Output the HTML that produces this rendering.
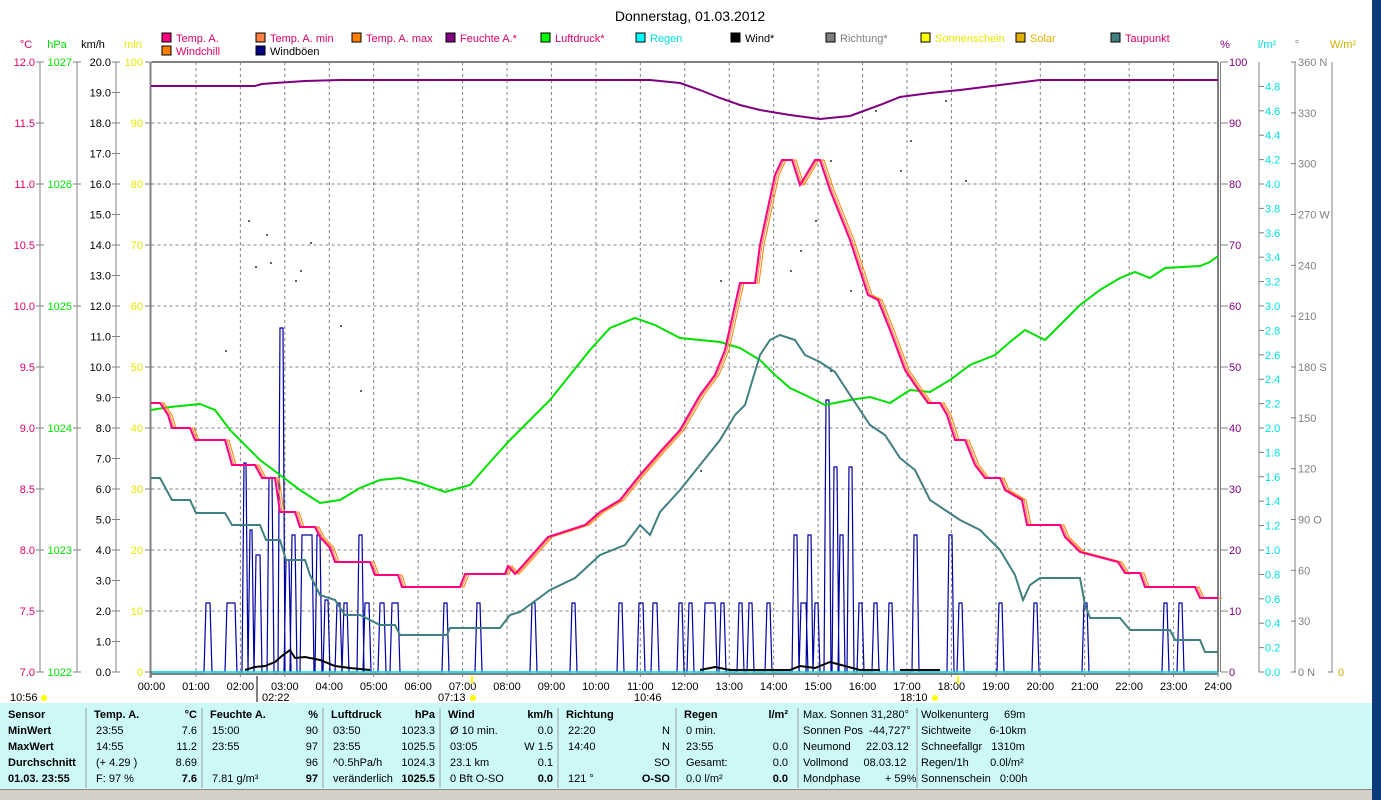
<!DOCTYPE html>
<html><head><meta charset="utf-8"><style>
body{margin:0;width:1381px;height:800px;overflow:hidden;background:#fff;font-family:"Liberation Sans",sans-serif;}
svg{position:absolute;left:0;top:0}
text{font-family:"Liberation Sans",sans-serif;font-size:11px}
</style></head><body>
<svg id="s" width="1381" height="800" xmlns="http://www.w3.org/2000/svg"></svg>
<script>
const s=document.getElementById('s');let h='';
const X0=151.5,X1=1218,Y0=62,Y1=672;
const tx=(x,y,t,c,a,extra)=>h+=`<text x="${x}" y="${y}" fill="${c||'#000'}" text-anchor="${a||'start'}" ${extra||''}>${t}</text>`;
const ln=(a,b,c,d,col,w,da)=>h+=`<line x1="${a}" y1="${b}" x2="${c}" y2="${d}" stroke="${col}" stroke-width="${w||1}" ${da?'stroke-dasharray="'+da+'"':''}/>`;
const pl=(pts,col,w)=>h+=`<polyline fill="none" stroke="${col}" stroke-width="${w}" points="${pts.map(p=>p.join(',')).join(' ')}"/>`;
h+=`<rect x="0" y="703" width="1381" height="87" fill="#ccf8f8"/><rect x="0" y="790" width="1381" height="10" fill="#d4d0c8"/><rect x="1372" y="0" width="9" height="800" fill="#0a3a7a"/>`;
ln(0,789.5,1372,789.5,'#888');
tx(690,21,'Donnerstag, 01.03.2012','#000','middle','style="font-size:14px"');
const lg=[[162,'#ff0080','Temp. A.','#e0006a'],[256,'#ff8040','Temp. A. min','#e0006a'],[352,'#ff8000','Temp. A. max','#e0006a'],[446,'#800080','Feuchte A.*','#e0006a'],[541,'#00ff00','Luftdruck*','#e0006a'],[636,'#00ffff','Regen','#00e0e0'],[731,'#000','Wind*','#000'],[826,'#808080','Richtung*','#808080'],[921,'#ffff00','Sonnenschein','#e8e800'],[1016,'#e0b000','Solar','#e0b000'],[1111,'#408080','Taupunkt','#e0006a']];
lg.forEach(l=>{h+=`<rect x="${l[0]}" y="33" width="9" height="9" fill="${l[1]}" stroke="#000"/>`;tx(l[0]+14,42,l[2],l[3]);});
h+=`<rect x="162" y="46" width="9" height="9" fill="#ff8000" stroke="#000"/><rect x="256" y="46" width="9" height="9" fill="#000080" stroke="#000"/>`;
tx(176,55,'Windchill','#e0006a');tx(270,55,'Windböen','#000');
tx(26,48,'°C','#e0006a','middle');tx(57,48,'hPa','#00e000','middle');tx(93,48,'km/h','#000','middle');tx(133,48,'min','#e8e800','middle');
tx(1225,48,'%','#800080','middle');tx(1267,48,'l/m²','#00e0e0','middle');tx(1297,48,'°','#808080','middle');tx(1343,48,'W/m²','#d0b000','middle');
for(let i=1;i<24;i++){const x=X0+i*44.44;ln(x,Y0,x,Y1,'#808080',1,'3,3');}
for(let i=1;i<10;i++){const y=Y0+i*61;ln(X0,y,X1,y,'#808080',1,'3,3');}
ln(X0,Y0,X1,Y0,'#808080',2);ln(X0-1,Y0,X0-1,Y1+6,'#808080',2);ln(X1,Y0,X1,Y1,'#808080',2);ln(1220.5,Y0,1220.5,Y1,'#808080',1);
ln(X0,Y1+2,X1,Y1+2,'#808080',2);
[40,77,116].forEach(x=>ln(x,Y0,x,Y1,'#808080'));
for(let i=0;i<=10;i++){const y=Y0+i*61;tx(35,y+4,(12-i*0.5).toFixed(1),'#e0006a','end');ln(36,y,44,y,'#808080');tx(134+9,y+4,100-i*10,'#e8e800','end');ln(145,y,150,y,'#808080');}
for(let i=0;i<=5;i++){const y=Y0+i*122;tx(72,y+4,1027-i,'#00e000','end');ln(73,y,81,y,'#808080');}
for(let i=0;i<=20;i++){const y=Y0+i*30.5;tx(111,y+4,(20-i).toFixed(1),'#000','end');ln(112,y,120,y,'#808080');}
[1259,1295,1332].forEach(x=>ln(x,Y0,x,Y1,'#808080'));
for(let i=0;i<=10;i++){const y=Y0+i*61;ln(1221,y,1228,y,'#808080');tx(1229,y+4,100-i*10,'#800080');}
for(let i=0;i<=24;i++){const v=i*0.2,y=Y1-v*122;ln(1259,y,1264,y,'#808080');tx(1265,y+4,v.toFixed(1),'#00e0e0');}
const dl={360:'360 N',270:'270 W',180:'180 S',90:'90  O',0:'0   N'};
for(let v=0;v<=360;v+=30){const y=Y1-v*610/360;ln(1291,y,1296,y,'#808080');tx(1298,y+4,dl[v]||v,'#808080');}
ln(1328,Y1,1333,Y1,'#808080');tx(1338,676,'0','#d0b000');
for(let i=0;i<=24;i++){const x=X0+i*44.44;ln(x,Y1,x,Y1+5,'#808080');tx(x,690,(i<10?'0':'')+i+':00','#000','middle');}
tx(10,701,'10:56','#000');h+=`<circle cx="44" cy="698" r="3" fill="#ff0"/>`;
tx(262,701,'02:22','#000');tx(438,701,'07:13','#000');h+=`<circle cx="473" cy="698" r="3" fill="#ff0"/>`;
tx(634,701,'10:46','#000');tx(900,701,'18:10','#000');h+=`<circle cx="935" cy="698" r="3" fill="#ff0"/>`;
ln(257,676,257,702,'#808080',2);ln(472,676,472,684,'#ff0',2);ln(958,676,958,684,'#ff0',2);
[[225,350],[248,220],[266,234],[255,266],[270,262],[300,270],[310,242],[295,280],[340,325],[360,390],[700,470],[720,280],[790,270],[800,250],[815,220],[830,160],[850,290],[830,370],[900,170],[910,140],[945,100],[965,180],[875,110]].forEach(p=>h+=`<rect x="${p[0]}" y="${p[1]}" width="2" height="2" fill="#606060"/>`);
let g=[[151,672]];
[[207,603,4],[228,603,8],[245,463,2],[251,530,2],[257,555,4],[270,478,3],[281,328,3],[287,560,3],[293,535,3],[303,535,10],[318,535,3],[326,600,3],[338,603,3],[345,603,3],[360,535,3],[366,603,4],[381,603,4],[393,603,6],[445,603,3],[478,603,3],[533,603,3],[573,603,3],[620,603,3],[640,603,4],[654,603,4],[680,603,3],[690,603,3],[706,603,10],[722,603,3],[740,603,3],[750,603,3],[768,603,3],[795,535,3],[802,603,5],[809,535,3],[816,603,3],[827,400,3],[835,467,3],[841,535,3],[850,467,3],[860,603,3],[875,603,3],[890,603,3],[915,535,3],[950,535,3],[960,603,3],[1000,603,3],[1035,603,3],[1085,603,3],[1165,603,3],[1180,603,3]].forEach(p=>{g.push([p[0]-3,672],[p[0]-1,p[1]],[p[0]+p[2]-1,p[1]],[p[0]+p[2]+1,672]);});
g.push([1218,672]);pl(g,'#0000a0',1.2);
ln(X0,Y1,X1,Y1,'#00e0e0',1.5);
pl([[245,670],[255,667],[265,666],[275,662],[283,655],[290,650],[295,658],[305,657],[320,660],[335,666],[350,668],[370,670]],'#000',2);
pl([[700,670],[715,667],[730,670],[790,670],[800,666],[815,668],[830,662],[845,666],[860,670],[880,670]],'#000',2);
pl([[900,670],[940,670]],'#000',2);
pl([[151,86],[255,86],[262,84],[275,83],[290,82],[305,81],[340,80],[650,80],[680,83],[700,90],[720,98],[740,105],[760,110],[790,115],[820,119],[850,116],[880,105],[900,97],[930,93],[960,90],[1000,85],[1040,80],[1218,80]],'#800080',2);
pl([[151,410],[170,407],[200,404],[215,410],[230,430],[245,445],[260,460],[280,475],[300,490],[320,503],[340,500],[360,488],[380,480],[400,478],[420,483],[445,492],[470,485],[490,462],[510,440],[530,420],[550,400],[570,375],[590,350],[610,328],[635,318],[655,325],[680,338],[700,340],[720,342],[740,348],[760,360],[775,375],[790,388],[805,395],[825,405],[850,400],[870,397],[890,403],[910,390],[930,392],[950,380],[970,365],[995,355],[1010,342],[1025,330],[1045,340],[1060,325],[1080,305],[1100,290],[1120,278],[1135,272],[1150,278],[1165,268],[1200,266],[1210,262],[1218,256]],'#00e000',2);
pl([[151,478],[160,478],[172,500],[190,500],[196,513],[225,513],[232,525],[260,525],[266,540],[280,540],[286,560],[305,560],[310,575],[320,595],[335,600],[345,615],[360,615],[370,620],[380,625],[395,625],[400,635],[447,635],[450,628],[500,628],[510,615],[520,612],[550,590],[575,578],[600,555],[625,545],[640,525],[650,535],[660,512],[680,490],[700,465],[720,440],[735,415],[745,405],[760,355],[770,340],[780,335],[795,340],[805,355],[820,362],[835,372],[850,395],[870,425],[885,435],[900,458],[915,470],[930,500],[945,510],[960,520],[980,530],[1000,550],[1015,575],[1023,600],[1030,585],[1040,578],[1080,578],[1085,605],[1090,618],[1120,618],[1130,630],[1170,630],[1175,640],[1200,640],[1205,652],[1218,652]],'#408080',2);
const T=[[151,403],[160,403],[168,415],[172,428],[190,428],[195,440],[225,440],[232,465],[255,465],[262,478],[275,478],[280,512],[295,512],[300,527],[315,527],[320,537],[330,548],[335,562],[370,562],[375,575],[398,575],[402,587],[460,587],[465,574],[505,574],[508,566],[515,574],[525,563],[548,537],[585,525],[600,512],[620,500],[640,475],[660,452],[680,430],[700,395],[715,375],[725,350],[735,305],[740,283],[755,283],[760,245],[775,175],[782,160],[792,160],[800,185],[815,160],[820,160],[830,190],[850,240],[868,295],[878,300],[890,330],[905,370],[915,385],[928,403],[940,403],[947,415],[955,440],[965,440],[975,465],[985,478],[1000,478],[1005,490],[1022,500],[1027,525],[1060,525],[1065,537],[1080,552],[1118,562],[1125,573],[1140,573],[1145,587],[1195,587],[1200,598],[1218,598]];
pl(T.map(p=>[p[0]+4,p[1]]),'#ff8000',1);pl(T.map(p=>[p[0]+2,p[1]]),'#ff8040',1);pl(T,'#ff0080',2);
const dv=[86,202,323,440,558,676,798,917];dv.forEach(x=>ln(x,708,x,788,'#a0a0a0'));
const rows=[718,734,750,766,782];const B='font-weight="bold"';
const L=['Sensor','MinWert','MaxWert','Durchschnitt','01.03. 23:55'];L.forEach((t,i)=>tx(8,rows[i],t,'#000','start',B));
const col=(x0,x1,hd,un,a,b,bold)=>{tx(x0,718,hd,'#000','start',B);tx(x1,718,un,'#000','end',B);a.forEach((t,i)=>tx(x0+2,rows[i+1],t));b.forEach((t,i)=>tx(x1,rows[i+1],t,'#000','end',i==3&&bold?B:''));};
col(94,197,'Temp. A.','°C',['23:55','14:55','(+ 4.29 )','F: 97 %'],['7.6','11.2','8.69','7.6'],1);
col(210,318,'Feuchte A.','%',['15:00','23:55','','7.81 g/m³'],['90','97','96','97'],1);
col(331,435,'Luftdruck','hPa',['03:50','23:55','^0.5hPa/h','veränderlich'],['1023.3','1025.5','1024.3','1025.5'],1);
col(448,553,'Wind','km/h',['Ø 10 min.','03:05','23.1 km','0 Bft O-SO'],['0.0','W 1.5','0.1','0.0'],1);
col(566,670,'Richtung','',['22:20','14:40','','121 °'],['N','N','SO','O-SO'],1);
col(684,788,'Regen','l/m²',['0 min.','23:55','Gesamt:','0.0 l/m²'],['','0.0','0.0','0.0'],1);
['Max. Sonnen 31,280°','Sonnen Pos  -44,727°','Neumond     22.03.12','Vollmond     08.03.12','Mondphase        + 59%'].forEach((t,i)=>tx(803,rows[i],t,'#000','start','xml:space="preserve"'));
['Wolkenunterg     69m','Sichtweite      6-10km','Schneefallgr   1310m','Regen/1h       0.0l/m²','Sonnenschein   0:00h'].forEach((t,i)=>tx(921,rows[i],t,'#000','start','xml:space="preserve"'));
s.innerHTML=h;
</script>
</body></html>
